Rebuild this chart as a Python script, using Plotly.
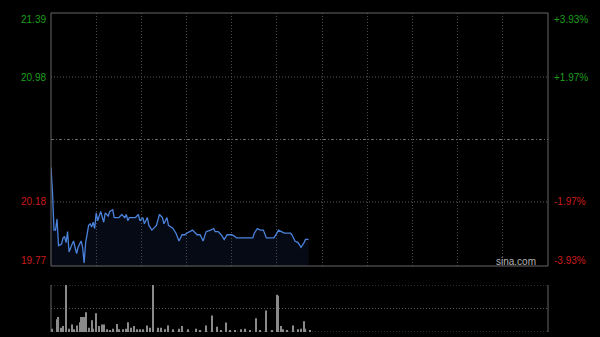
import plotly.graph_objects as go

# ---- data (minutes since 09:30, HK session of 330 min) ----
times = [0, 1, 2, 3, 4, 5, 7, 8, 9, 10,
         11, 12, 14, 15, 16, 17, 18, 20, 21, 22,
         23, 25, 26, 27, 28, 29, 30, 31, 33, 35,
         36, 38, 39, 41, 42, 45, 47, 49, 50, 51,
         52, 56, 58, 59, 61, 62, 64, 65, 67, 69,
         70, 72, 74, 75, 77, 78, 81, 83, 85, 87,
         89, 90, 92, 94, 97, 99, 101, 103, 106, 108,
         109, 111, 113, 115, 117, 120, 122, 123, 127, 129,
         134, 135, 137, 139, 141, 143, 145, 148, 150, 151,
         153, 155, 158, 159, 160, 162, 164, 166, 168, 169,
         171]
prices = [20.40, 20.24, 20.00, 20.00, 20.07, 19.90, 19.91, 19.95, 19.96, 19.92,
          19.99, 19.86, 19.91, 19.93, 19.89, 19.85, 19.89, 19.93, 19.89, 19.79,
          19.92, 20.03, 20.04, 20.02, 20.05, 20.01, 20.11, 20.06, 20.12, 20.05,
          20.11, 20.09, 20.12, 20.13, 20.08, 20.08, 20.10, 20.08, 20.10, 20.06,
          20.08, 20.08, 20.10, 20.06, 20.08, 20.04, 20.08, 20.03, 20.00, 20.02,
          20.03, 20.10, 20.08, 20.04, 20.08, 20.03, 20.01, 19.98, 19.93, 19.97,
          19.97, 19.98, 19.99, 20.00, 19.97, 19.97, 19.93, 19.99, 20.00, 20.01,
          19.99, 19.99, 19.97, 19.94, 19.97, 19.97, 19.96, 19.95, 19.95, 19.95,
          19.95, 19.98, 20.01, 20.00, 20.00, 19.95, 19.95, 19.95, 19.98, 20.00,
          19.99, 19.98, 19.98, 19.98, 19.97, 19.93, 19.92, 19.89, 19.92, 19.94,
          19.94]

vol_times = [1, 4, 5, 7, 8, 10, 12, 14, 15, 17,
             19, 20, 21, 22, 23, 25, 27, 28, 30, 32,
             34, 35, 37, 39, 41, 44, 45, 48, 50, 51,
             53, 55, 57, 59, 61, 64, 66, 68, 71, 73,
             76, 78, 81, 85, 87, 91, 96, 99, 103, 107,
             110, 113, 116, 119, 122, 126, 129, 132, 136, 139,
             143, 147, 150, 151, 153, 154, 157, 161, 164, 166,
             168, 169, 172]
vol_values = [7, 27, 32, 9, 13, 100, 7, 16, 6, 14,
              21, 32, 32, 32, 42, 9, 25, 7, 40, 13,
              16, 16, 6, 4, 7, 17, 6, 6, 7, 21,
              9, 13, 6, 6, 6, 14, 9, 100, 9, 9,
              6, 14, 6, 7, 13, 6, 7, 4, 14, 35,
              11, 4, 20, 4, 4, 6, 7, 4, 29, 4,
              46, 4, 79, 77, 13, 6, 4, 14, 6, 7,
              23, 7, 4]

price_min, price_max, prev_close = 19.77, 21.39, 20.58
left_labels = ["21.39", "20.98", "20.18", "19.77"]
left_levels = [21.39, 20.98, 20.18, 19.77]
right_labels = ["+3.93%", "+1.97%", "-1.97%", "-3.93%"]
label_colors = ["#1c9e1c", "#1c9e1c", "#cc1a1a", "#cc1a1a"]
label_shift = [-6, 0, 0, 6]
grid_minutes = [30, 60, 90, 120, 150, 180, 210, 240, 270, 300]

W, H = 600, 337
X0, X1 = 51 / W, 548 / W
main_dom = [1 - 266 / H, 1 - 13 / H]
vol_dom = [1 - 332 / H, 1 - 285 / H]

fig = go.Figure()
fig.add_trace(go.Scatter(
    x=times, y=prices, mode="lines",
    line=dict(color="#4a82dc", width=1.3),
    fill="tozeroy", fillcolor="rgba(40,70,140,0.14)",
    xaxis="x", yaxis="y", hoverinfo="skip"))
fig.add_trace(go.Bar(
    x=vol_times, y=vol_values, width=0.75,
    marker=dict(color="#8a8a8a", line=dict(width=0)),
    xaxis="x2", yaxis="y2", hoverinfo="skip"))

grid_col = "#4a4a4a"
dot = "1px,2px"
fig.update_layout(
    width=W, height=H, margin=dict(l=0, r=0, t=0, b=0),
    paper_bgcolor="#000000", plot_bgcolor="#000000",
    showlegend=False,
    xaxis=dict(domain=[X0, X1], range=[0, 330], tickvals=grid_minutes,
               showticklabels=False, ticks="", showgrid=True,
               gridcolor=grid_col, griddash=dot, gridwidth=1,
               zeroline=False, showline=False, anchor="y"),
    yaxis=dict(domain=main_dom, range=[price_min, price_max],
               showticklabels=False, showgrid=False, zeroline=False,
               ticks="", anchor="x"),
    xaxis2=dict(domain=[X0, X1], range=[0, 330], showticklabels=False,
                showgrid=False, zeroline=False, ticks="", anchor="y2"),
    yaxis2=dict(domain=vol_dom, range=[0, 100], showticklabels=False,
                showgrid=False, zeroline=False, ticks="", anchor="x2"),
)

shapes = []
# main panel border
shapes.append(dict(type="rect", xref="x domain", yref="y domain",
                   x0=0, x1=1, y0=0, y1=1,
                   line=dict(color="#666666", width=1), layer="above"))
# horizontal grid lines in the main panel
for lv in [20.98, 20.18]:
    shapes.append(dict(type="line", xref="x domain", yref="y", x0=0, x1=1,
                       y0=lv, y1=lv, line=dict(color="#5a5a5a", width=1, dash=dot),
                       layer="below"))
shapes.append(dict(type="line", xref="x domain", yref="y", x0=0, x1=1,
                   y0=prev_close, y1=prev_close,
                   line=dict(color="#6a6a6a", width=1, dash="3px,2px,1px,2px"),
                   layer="below"))
# volume panel frame
for yv in [0, 50, 100]:
    shapes.append(dict(type="line", xref="x2 domain", yref="y2", x0=0, x1=1,
                       y0=yv, y1=yv, line=dict(color="#5a5a5a", width=1, dash=dot),
                       layer="below"))
for xv in [0, 1]:
    shapes.append(dict(type="line", xref="x2 domain", yref="y2 domain", x0=xv, x1=xv,
                       y0=0, y1=1, line=dict(color="#666666", width=1), layer="above"))
fig.update_layout(shapes=shapes)

font = "Liberation Sans, Arial, sans-serif"
ann = []
for txt, rtxt, lv, col, sh in zip(left_labels, right_labels, left_levels, label_colors, label_shift):
    ann.append(dict(text=txt, xref="paper", yref="y", x=48 / W, y=lv, yshift=sh,
                    xanchor="right", yanchor="middle", showarrow=False,
                    font=dict(family=font, size=10, color=col)))
    ann.append(dict(text=rtxt, xref="paper", yref="y", x=552 / W, y=lv, yshift=sh,
                    xanchor="left", yanchor="middle", showarrow=False,
                    font=dict(family=font, size=10, color=col)))
ann.append(dict(text="sina.com", xref="paper", yref="paper", x=538 / W, y=1 - 261 / H,
                xanchor="right", yanchor="middle", showarrow=False,
                font=dict(family=font, size=10, color="#b4b4b4")))
fig.update_layout(annotations=ann)

fig.write_html("out.html")
